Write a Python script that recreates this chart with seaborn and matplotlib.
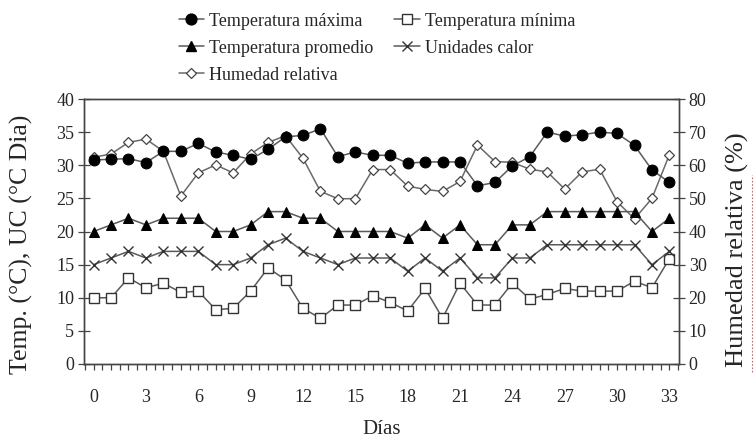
import numpy as np
import pandas as pd
import matplotlib
matplotlib.use("Agg")
import matplotlib.pyplot as plt
from matplotlib.lines import Line2D
from matplotlib.ticker import MultipleLocator
import seaborn as sns

dias = list(range(34))

temp_max = [30.8, 30.9, 31.0, 30.4, 32.1, 32.1, 33.3, 32.0, 31.5, 30.9, 32.4, 34.3,
            34.5, 35.5, 31.3, 32.0, 31.5, 31.5, 30.3, 30.5, 30.5, 30.5, 26.9, 27.4,
            29.9, 31.3, 35.0, 34.4, 34.6, 35.0, 34.8, 33.0, 29.3, 27.4]
temp_min = [10.0, 10.0, 13.0, 11.5, 12.2, 10.8, 11.0, 8.2, 8.4, 11.0, 14.5, 12.7,
            8.4, 6.9, 8.9, 8.9, 10.3, 9.3, 8.0, 11.4, 6.9, 12.2, 8.9, 8.9,
            12.2, 9.8, 10.5, 11.4, 11.0, 11.0, 11.0, 12.5, 11.5, 15.9]
temp_prom = [20, 21, 22, 21, 22, 22, 22, 20, 20, 21, 23, 23,
             22, 22, 20, 20, 20, 20, 19, 21, 19, 21, 18, 18,
             21, 21, 23, 23, 23, 23, 23, 23, 20, 22]
unid_calor = [15, 16, 17, 16, 17, 17, 17, 15, 15, 16, 18, 19,
              17, 16, 15, 16, 16, 16, 14, 16, 14, 16, 13, 13,
              16, 16, 18, 18, 18, 18, 18, 18, 15, 17]
humedad = [62.4, 63.4, 66.9, 67.9, 64.2, 50.7, 57.7, 60.1, 57.7, 63.4, 66.9, 68.9,
           62.1, 52.1, 49.9, 49.9, 58.7, 58.7, 53.7, 52.7, 52.1, 55.1, 66.1, 61.1,
           60.9, 58.8, 58.0, 52.8, 58.0, 58.8, 49.0, 43.8, 50.0, 63.2]

x_ticks = list(range(0, 34, 3))
left_ticks = list(range(0, 41, 5))
right_ticks = list(range(0, 81, 10))

sns.set_theme(style="white")
plt.rcParams["font.family"] = ["Liberation Serif", "DejaVu Serif"]

fig = plt.figure(figsize=(7.55, 4.43), dpi=100)
ax = fig.add_axes([84 / 755, 1 - 364 / 443, (679 - 84) / 755, (364 - 99) / 443])
ax2 = ax.twinx()
# temperature series are drawn above the humidity line
ax.set_zorder(ax2.get_zorder() + 1)
ax.patch.set_visible(False)

line_col = "#5a5a5a"
lw = 1.1

series = [
    ("Temperatura máxima", temp_max, dict(marker="o", markersize=7.8, markerfacecolor="black",
                                          markeredgecolor="black")),
    ("Temperatura mínima", temp_min, dict(marker="s", markersize=6.5, markerfacecolor="white",
                                          markeredgecolor="#333333", markeredgewidth=1.0)),
    ("Temperatura promedio", temp_prom, dict(marker="^", markersize=7, markerfacecolor="black",
                                             markeredgecolor="black")),
    ("Unidades calor", unid_calor, dict(marker="x", markersize=7, markeredgecolor="#333333",
                                        markeredgewidth=1.0)),
]

df = pd.DataFrame({"Día": dias})
handles = {}
for name, vals, style in series:
    df[name] = vals
    sns.lineplot(data=df, x="Día", y=name, ax=ax, color=line_col, linewidth=lw, **style)
    handles[name] = Line2D([], [], color=line_col, linewidth=lw, **style)

hum_style = dict(marker="D", markersize=5, markerfacecolor="white",
                 markeredgecolor="#444444", markeredgewidth=0.9)
df["Humedad relativa"] = humedad
sns.lineplot(data=df, x="Día", y="Humedad relativa", ax=ax2, color="#6a6a6a",
             linewidth=lw, **hum_style)
handles["Humedad relativa"] = Line2D([], [], color="#6a6a6a", linewidth=lw, **hum_style)

ax.set_xlim(-0.55, 33.55)
ax.set_ylim(0, 40)
ax2.set_ylim(0, 80)
ax.set_xticks(x_ticks)
ax.xaxis.set_minor_locator(MultipleLocator(0.5))
ax.set_yticks(left_ticks)
ax2.set_yticks(right_ticks)

for a in (ax, ax2):
    for sp in a.spines.values():
        sp.set_color("#444444")
        sp.set_linewidth(1.0)
    a.grid(False)

ax.tick_params(axis="x", which="both", direction="out", length=4, width=0.9,
               color="#444444", bottom=True, labelsize=13, pad=14)
ax.tick_params(axis="y", direction="inout", length=8, width=0.9, color="#444444",
               left=True, labelsize=13, pad=3)
ax2.tick_params(axis="y", direction="inout", length=8, width=0.9, color="#444444",
                right=True, labelsize=13, pad=3)

ax.set_xlabel("Días", fontsize=15, labelpad=10)
ax.set_ylabel("Temp. (°C), UC (°C Dia)", fontsize=18.5)
ax2.set_ylabel("Humedad relativa (%)", fontsize=19, rotation=90)
ax.yaxis.set_label_coords(-0.086, 0.45)
ax2.yaxis.set_label_coords(1.078, 0.43)

order = ["Temperatura máxima", "Temperatura promedio", "Humedad relativa",
         "Temperatura mínima", "Unidades calor"]
fig.legend([handles[k] for k in order], order, ncol=2, frameon=False,
           loc="upper left", bbox_to_anchor=(166 / 755, 1.0), fontsize=13,
           handlelength=1.4, handletextpad=0.3, columnspacing=1.15,
           labelspacing=0.55, borderaxespad=0.3)

# spell-check style dotted underline beside the right axis title
fig.add_artist(Line2D([752 / 755, 752 / 755], [1 - 372 / 443, 1 - 175 / 443],
                      color="#e06060", linestyle=(0, (1.5, 1.5)), linewidth=0.8))

fig.savefig("out.png", dpi=100)
